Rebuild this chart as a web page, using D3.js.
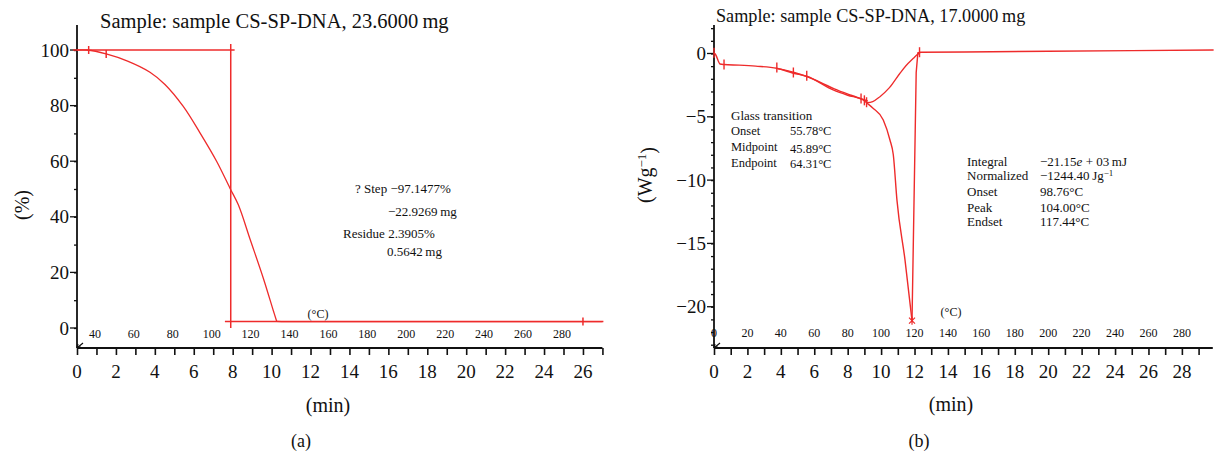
<!DOCTYPE html>
<html><head><meta charset="utf-8">
<script src="https://cdn.jsdelivr.net/npm/d3@7/dist/d3.min.js"></script>
<style>
body{margin:0;background:#fff;}
svg text{font-family:"Liberation Serif","DejaVu Serif",serif;fill:#111;}
</style></head>
<body>
<svg id="c" width="1215" height="453"></svg>
<script>
// ---------- DATA ----------
// (a) TGA
const tgaTime = [0, 0.5, 1.5, 2.6, 3.75, 4.52, 5.46, 6.32, 7.18, 7.86, 8.29, 8.89, 9.57, 10.09, 10.26];
const tgaMass = [100, 100, 98.6, 96, 92.0, 87.6, 79.7, 70.2, 59.9, 50.3, 44.3, 32.0, 18.0, 6.2, 2.4];
const tgaTailT = [10.26, 10.5, 27];
const tgaTailV = [2.4, 2.3, 2.3];
const tgaStepTopT = [-0.2, 8.1];   const tgaStepTopV = [100, 100];
const tgaStepVertT = [7.9, 7.9];   const tgaStepVertV = [102.2, 0];
const tgaResidT = [7.6, 27.05];    const tgaResidV = [2.3, 2.3];
const tgaMarkT = [0.6, 1.5, 26.0];
const tgaMarkV = [100, 98.6, 2.3];
const tgaXTicks = [0,2,4,6,8,10,12,14,16,18,20,22,24,26];
const tgaYTicks = [0,20,40,60,80,100];
const tgaTempLabels = [40,60,80,100,120,140,160,180,200,220,240,260,280];
const tgaNotes = ["? Step \u221297.1477%", "\u221222.9269\u2009mg", "Residue 2.3905%", "0.5642\u2009mg"];

// (b) DSC
const dscTime = [0, 0.1, 0.36, 0.6, 1.5, 2.5, 3.76, 4.75, 5.55, 7.13, 8.0, 8.93, 9.13, 9.5, 10.13, 10.53, 10.73, 10.95, 11.43, 11.85];
const dscVal  = [0.05, -0.1, -0.83, -0.87, -0.92, -1.0, -1.17, -1.56, -1.8, -2.88, -3.3, -3.67, -3.89, -4.3, -5.25, -6.83, -8.0, -11.6, -16.3, -21.1];
const dscRiseT = [11.85, 12.1, 12.2, 12.35, 15, 20, 25, 29.9];
const dscRiseV = [-21.1, -1.5, 0.05, 0.1, 0.12, 0.18, 0.23, 0.28];
const dscBaseT = [9.13, 9.5, 9.93, 10.5, 11.13, 11.5, 11.93, 12.15, 12.33];
const dscBaseV = [-3.89, -3.8, -3.41, -2.7, -1.56, -0.95, -0.38, -0.1, 0.07];
const dscFitT = [3.8, 4.8, 5.6, 6.4, 7.2, 8.2, 9.2];
const dscFitV = [-1.2, -1.5, -1.85, -2.3, -2.8, -3.3, -3.75];
const dscMarkT = [0, 0.6, 3.76, 4.75, 5.55, 8.8, 9.0, 9.13, 12.3];
const dscMarkV = [0.05, -0.87, -1.1, -1.5, -1.75, -3.55, -3.7, -3.85, 0.1];
const dscXTicks = [0,2,4,6,8,10,12,14,16,18,20,22,24,26,28];
const dscYTicks = [0,-5,-10,-15,-20];
const dscTempLabels = [0,20,40,60,80,100,120,140,160,180,200,220,240,260,280];
const glassLabels = ["Onset", "Midpoint", "Endpoint"];
const glassValues = ["55.78\u00b0C", "45.89\u00b0C", "64.31\u00b0C"];
const peakLabels = ["Integral", "Normalized", "Onset", "Peak", "Endset"];
const peakValues = ["\u221221.15", "\u22121244.40\u2009Jg", "98.76\u00b0C", "104.00\u00b0C", "117.44\u00b0C"];

// ---------- DRAW ----------
const RED = "#ee2b2b";
const svg = d3.select("#c");

function zip(a, b){ return a.map((v,i)=>[v,b[i]]); }

function panel(o){
  const g = svg.append("g");
  const x = d3.scaleLinear().domain(o.xDom).range(o.xRange);
  const y = d3.scaleLinear().domain(o.yDom).range(o.yRange);
  const y0 = o.yRange[0], x0 = o.xRange[0];
  // x-axis
  const xa = d3.axisBottom(x).tickValues(d3.range(0, Math.floor(o.xDom[1])+1, 1)).tickSize(7).tickFormat("");
  const gx = g.append("g").attr("transform",`translate(0,${y0})`).call(xa);
  gx.select(".domain").attr("d",`M${x0},0H${o.xRange[1]}`);
  gx.selectAll("line").attr("stroke","#111").attr("stroke-width",1.6);
  gx.select(".domain").attr("stroke","#111").attr("stroke-width",1.8);
  g.append("g").selectAll("text").data(o.xTicks).join("text")
    .attr("x",d=>x(d)).attr("y",y0+30).attr("text-anchor","middle")
    .attr("font-size",o.xFont).text(d=>d);
  // y-axis
  const ya = d3.axisLeft(y).tickValues(d3.range(Math.ceil(o.yDom[0]/o.yMinor)*o.yMinor, o.yDom[1], o.yMinor)).tickSize(3).tickFormat("");
  const gy = g.append("g").attr("transform",`translate(${x0},0)`).call(ya);
  gy.select(".domain").attr("d",`M0,${o.yRange[1]}V${y0}`).attr("stroke","#111").attr("stroke-width",1.8);
  gy.selectAll("line").attr("stroke","#111").attr("stroke-width",1.3);
  g.append("g").selectAll("line").data(o.yTicks).join("line")
    .attr("x1",x0-7).attr("x2",x0).attr("y1",d=>y(d)).attr("y2",d=>y(d))
    .attr("stroke","#111").attr("stroke-width",1.3);
  g.append("g").selectAll("text").data(o.yTicks).join("text")
    .attr("x",x0-8).attr("y",d=>y(d)).attr("dy","0.35em").attr("text-anchor","end")
    .attr("font-size",o.yFont).text(d=>d<0?"\u2212"+Math.abs(d):d);
  // corner arrow
  g.append("path").attr("d",`M${x0+6},${y0-5}L${x0},${y0}M${x0},${y0}l1,-4M${x0},${y0}l4,-1`)
    .attr("stroke","#111").attr("fill","none").attr("stroke-width",1.2);
  // temperature labels
  g.append("g").selectAll("text").data(o.temps).join("text")
    .attr("x",d=>x(o.tempToTime(d))).attr("y",o.tempY).attr("dy","0.35em")
    .attr("text-anchor","middle").attr("font-size",12).attr("fill","#333").text(d=>d);
  return {g,x,y};
}

// Panel (a)
const A = panel({xDom:[0,27], xRange:[77, 77+27*19.46], yDom:[-7.2,109], yRange:[348,25],
  xTicks:tgaXTicks, yTicks:tgaYTicks, yMinor:10, xFont:19, yFont:19,
  temps:tgaTempLabels, tempToTime:T=>(T-30.8)/10, tempY:334});
{
  const {g,x,y} = A;
  const line = d3.line().x(d=>x(d[0])).y(d=>y(d[1]));
  const cl = d3.line().curve(d3.curveCatmullRom.alpha(0.5)).x(d=>x(d[0])).y(d=>y(d[1]));
  g.append("path").attr("d",line(zip(tgaStepTopT,tgaStepTopV))).attr("stroke",RED).attr("stroke-width",1.5).attr("fill","none");
  g.append("path").attr("d",line(zip(tgaStepVertT,tgaStepVertV))).attr("stroke",RED).attr("stroke-width",1.5).attr("fill","none");
  g.append("path").attr("d",line(zip(tgaResidT,tgaResidV))).attr("stroke",RED).attr("stroke-width",1.5).attr("fill","none");
  g.append("path").attr("d",cl(zip(tgaTime,tgaMass))).attr("stroke",RED).attr("stroke-width",1.3).attr("fill","none");
  g.append("path").attr("d",line(zip(tgaTailT,tgaTailV))).attr("stroke",RED).attr("stroke-width",1.3).attr("fill","none");
  g.append("g").selectAll("line").data(zip(tgaMarkT,tgaMarkV)).join("line")
    .attr("x1",d=>x(d[0])).attr("x2",d=>x(d[0])).attr("y1",d=>y(d[1])-4).attr("y2",d=>y(d[1])+4)
    .attr("stroke",RED).attr("stroke-width",1.5);
  svg.append("text").attr("x",100).attr("y",28).attr("font-size",20.5).text("Sample: sample CS-SP-DNA, 23.6000\u2009mg");
  svg.append("text").attr("transform","translate(22,205) rotate(-90)").attr("text-anchor","middle").attr("dy","0.35em").attr("font-size",20).text("(%)");
  svg.append("text").attr("x",328).attr("y",405).attr("dy","0.35em").attr("text-anchor","middle").attr("font-size",20).text("(min)");
  svg.append("text").attr("x",301).attr("y",441).attr("dy","0.35em").attr("text-anchor","middle").attr("font-size",18).text("(a)");
  svg.append("text").attr("x",318).attr("y",314).attr("dy","0.35em").attr("text-anchor","middle").attr("font-size",12).text("(\u00b0C)");
  const nx = [355,388,343,387], ny = [188,211,233,251];
  svg.append("g").selectAll("text").data(tgaNotes).join("text")
    .attr("x",(d,i)=>nx[i]).attr("y",(d,i)=>ny[i]).attr("dy","0.35em").attr("font-size",13).text(d=>d);
}

// Panel (b)
const B = panel({xDom:[0,29.85], xRange:[714, 714+29.85*16.71], yDom:[-23.26,2.25], yRange:[348,25],
  xTicks:dscXTicks, yTicks:dscYTicks, yMinor:1, xFont:19, yFont:19,
  temps:dscTempLabels, tempToTime:T=>T/10, tempY:333});
{
  const {g,x,y} = B;
  const cl = d3.line().curve(d3.curveMonotoneX).x(d=>x(d[0])).y(d=>y(d[1]));
  const ll = d3.line().x(d=>x(d[0])).y(d=>y(d[1]));
  g.append("path").attr("d",cl(zip(dscFitT,dscFitV))).attr("stroke",RED).attr("stroke-width",1.4).attr("fill","none");
  g.append("path").attr("d",cl(zip(dscTime,dscVal))).attr("stroke",RED).attr("stroke-width",1.4).attr("fill","none");
  g.append("path").attr("d",ll(zip(dscRiseT,dscRiseV))).attr("stroke",RED).attr("stroke-width",1.4).attr("fill","none");
  g.append("path").attr("d",cl(zip(dscBaseT,dscBaseV))).attr("stroke",RED).attr("stroke-width",1.3).attr("fill","none");
  g.append("g").selectAll("line").data(zip(dscMarkT,dscMarkV)).join("line")
    .attr("x1",d=>x(d[0])).attr("x2",d=>x(d[0])).attr("y1",d=>y(d[1])-5).attr("y2",d=>y(d[1])+5)
    .attr("stroke",RED).attr("stroke-width",1.4);
  // peak star marker
  const px = x(dscTime[dscTime.length-1]), py = y(dscVal[dscVal.length-1]);
  g.append("path").attr("d",`M${px-3},${py-3}L${px+3},${py+3}M${px-3},${py+3}L${px+3},${py-3}M${px},${py-4}V${py+4}`)
    .attr("stroke",RED).attr("stroke-width",1.2);
  svg.append("text").attr("x",716).attr("y",22).attr("font-size",18.2).text("Sample: sample CS-SP-DNA, 17.0000\u2009mg");
  const yl = svg.append("text").attr("transform","translate(645,175) rotate(-90)").attr("text-anchor","middle").attr("dy","0.35em").attr("font-size",20);
  yl.append("tspan").text("(Wg");
  yl.append("tspan").attr("dy","-0.45em").attr("font-size",13).text("\u22121");
  yl.append("tspan").attr("dy","0.45em").text(")");
  svg.append("text").attr("x",951).attr("y",404).attr("dy","0.35em").attr("text-anchor","middle").attr("font-size",20).text("(min)");
  svg.append("text").attr("x",919).attr("y",441).attr("dy","0.35em").attr("text-anchor","middle").attr("font-size",18).text("(b)");
  svg.append("text").attr("x",951).attr("y",312).attr("dy","0.35em").attr("text-anchor","middle").attr("font-size",12).text("(\u00b0C)");
  svg.append("text").attr("x",731).attr("y",115).attr("dy","0.35em").attr("font-size",13).text("Glass transition");
  const gy = [131,147,163], gvy = [131,149,164];
  svg.append("g").selectAll("text").data(glassLabels).join("text")
    .attr("x",731).attr("y",(d,i)=>gy[i]).attr("dy","0.35em").attr("font-size",12.5).text(d=>d);
  svg.append("g").selectAll("text").data(glassValues).join("text")
    .attr("x",790).attr("y",(d,i)=>gvy[i]).attr("dy","0.35em").attr("font-size",12.5).text(d=>d);
  const py2 = [161,175,191,207,221];
  svg.append("g").selectAll("text").data(peakLabels).join("text")
    .attr("x",967).attr("y",(d,i)=>py2[i]).attr("dy","0.35em").attr("font-size",13).text(d=>d);
  const pv = svg.append("g").selectAll("text").data(peakValues).join("text")
    .attr("x",1040).attr("y",(d,i)=>py2[i]).attr("dy","0.35em").attr("font-size",13);
  pv.each(function(d,i){
    const t = d3.select(this);
    t.append("tspan").text(d);
    if(i===0){ t.append("tspan").attr("font-style","italic").text("e"); t.append("tspan").text(" + 03\u2009mJ"); }
    if(i===1){ t.append("tspan").attr("dy","-0.45em").attr("font-size",9).text("\u22121"); }
  });
}
</script>
</body></html>
